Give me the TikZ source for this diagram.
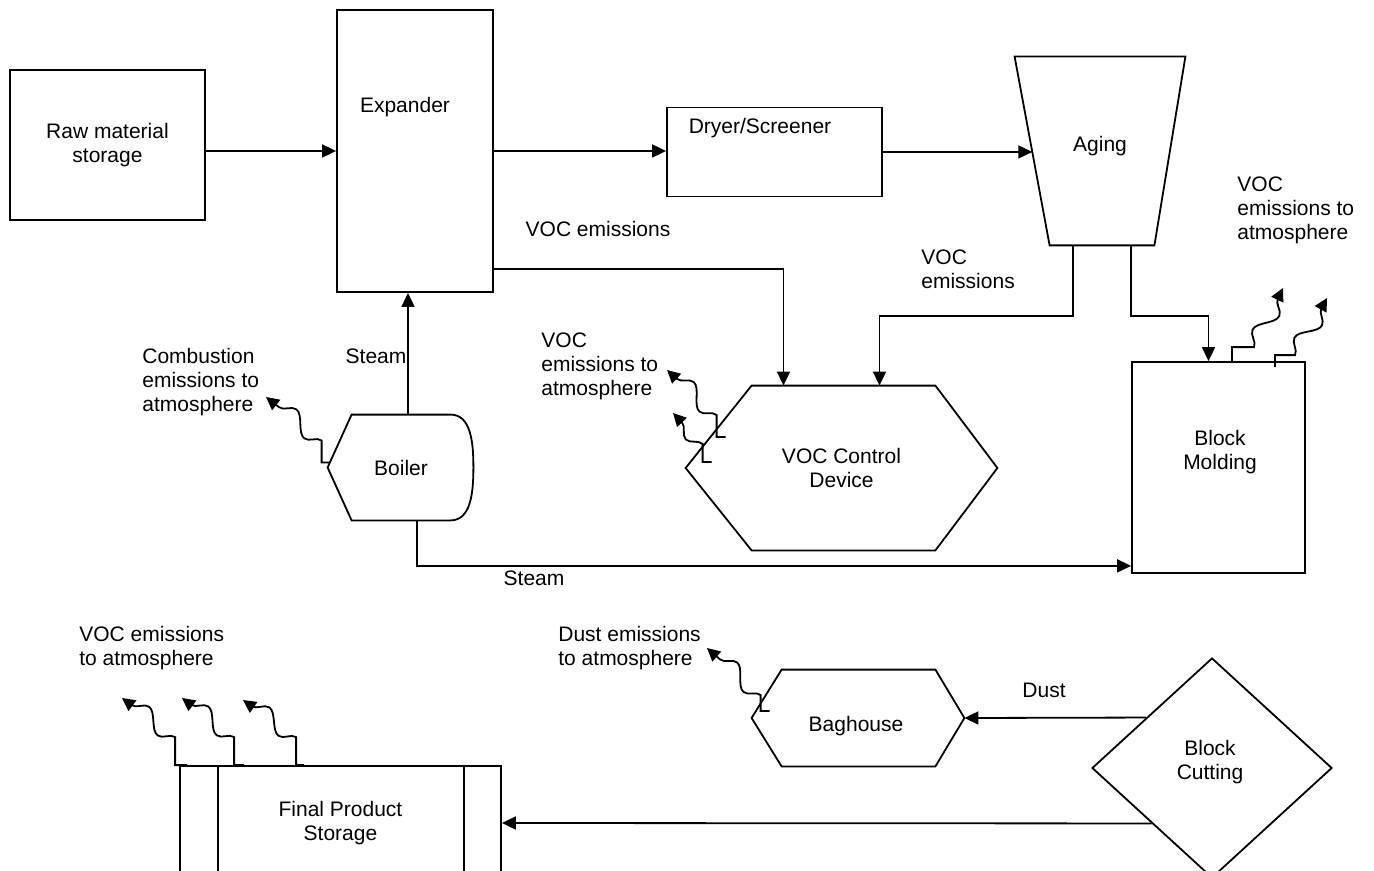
\documentclass[tikz,border=0pt]{standalone}
\usepackage{fontspec}
\setmainfont{Liberation Sans}
\usepackage{tikz}
\usetikzlibrary{arrows.meta}
\usetikzlibrary{positioning}
\usetikzlibrary{calc}
\usetikzlibrary{shapes.geometric}
\usetikzlibrary{decorations.pathmorphing}

\begin{document}
\begin{tikzpicture}[
    x=0.5pt, y=-0.5pt,
    every node/.style={font=\fontsize{10.5}{12}\selectfont, inner sep=0pt},
    unit/.style={draw, line width=0.9pt},
    flow/.style={line width=0.9pt, -{Triangle[length=7pt, width=6.5pt]}},
    fume/.style={line width=0.9pt, -{Triangle[length=6.5pt, width=6.5pt]},
        decoration={snake, amplitude=4.5pt, segment length=24pt, post length=4pt}},
    note/.style={align=left, anchor=west}
]
\useasboundingbox (0,0) rectangle (1374,871);

% Equipos
\node[unit, minimum width=97.5pt, minimum height=75pt, align=center] (raw) at (107.5,145) {Raw material\\storage};
\node[unit, minimum width=78pt, minimum height=141pt] (exp) at (415,151) {};
\node (exptxt) at (405,107) {Expander};
\node[unit, minimum width=107.5pt, minimum height=44.5pt] (dry) at (774.5,152) {};
\node (drytxt) at (760,128) {Dryer/Screener};

\node[minimum width=85pt, minimum height=94pt] (aging) at (1100,151) {};
\node (agingtxt) at (1100,146) {Aging};
\coordinate (agtl) at (aging.north west);
\coordinate (agtr) at (aging.north east);
\coordinate (agbr) at ($(aging.south east)+(-31,0)$);
\coordinate (agbl) at ($(aging.south west)+(35,0)$);
\coordinate (agin) at ($(agtl)!0.505!(agbl)$);
\draw[unit] (agtl) -- (agtr) -- (agbr) -- (agbl) -- cycle;

\node[minimum width=155.5pt, minimum height=82pt, align=center] (voc) at (841.5,468) {VOC Control\\Device};
\draw[unit] (voc.west) -- ($(voc.north west)+(66,0)$) -- ($(voc.north east)+(-62,0)$) -- (voc.east)
    -- ($(voc.south east)+(-62,0)$) -- ($(voc.south west)+(66,0)$) -- cycle;

\node[minimum width=49pt, minimum height=52.5pt] (boil) at (401,467.5) {Boiler};
\draw[unit] (boil.north west) -- (boil.north east) .. controls +(20,0) and +(0,-27) .. ($(boil.east)+(23,0)$)
    .. controls +(0,27) and +(20,0) .. (boil.south east) -- (boil.south west) -- ($(boil.west)+(-24,0)$) -- cycle;

\node[unit, minimum width=86.5pt, minimum height=105.5pt] (mold) at (1218.5,467.5) {};
\node[align=center] (moldtxt) at (1220,452) {Block\\Molding};

\node[minimum width=106pt, minimum height=48pt] (bag) at (858,718) {};
\node (bagtxt) at (856,726) {Baghouse};
\draw[unit] (bag.west) -- ($(bag.north west)+(30,0)$) -- ($(bag.north east)+(-29,0)$) -- (bag.east)
    -- ($(bag.south east)+(-29,0)$) -- ($(bag.south west)+(30,0)$) -- cycle;

\node[unit, diamond, minimum width=120pt, minimum height=110pt] (cut) at (1212,768) {};
\node[align=center] (cuttxt) at (1210,762) {Block\\Cutting};

\node[unit, minimum width=160.5pt, minimum height=57pt, align=center] (store) at (340.5,823) {Final Product\\Storage};
\draw[unit] ($(store.north west)+(39,0)$) -- ($(store.south west)+(39,0)$);
\draw[unit] ($(store.north east)+(-38,0)$) -- ($(store.south east)+(-38,0)$);

% Flujos
\draw[flow] (raw.east |- exp.west) -- (exp.west);
\draw[flow] (exp.east) -- (exp.east -| dry.west);
\draw[flow] (dry.east |- agin) -- (agin);
\draw[flow] ($(exp.south east)+(0,-24)$) -| ($(voc.north)+(-58,0)$);
\draw[flow] ($(aging.south)+(-27,0)$) -- ++(0,71) -| ($(voc.north)+(38,0)$);
\draw[flow] ($(aging.south)+(31,0)$) -- ++(0,71) -| ($(mold.north)+(-10,0)$);
\coordinate (steamup) at ($(boil.north)+(7,0)$);
\draw[flow] (steamup) -- (steamup |- exp.south);
\draw[flow] ($(boil.south)+(16,0)$) |- ($(mold.south west)+(0,-8)$);
\draw[flow] ($(cut.north)!0.545!(cut.west)$) -- (bag.east);
\draw[flow] ($(cut.west)!0.5!(cut.south)$) -- (store.east);

% Emisiones
\coordinate (tboil) at (266,397);
\coordinate (tvoca) at (667,370);
\coordinate (tvocb) at (673,413);
\coordinate (tmolda) at (1283,288);
\coordinate (tmoldb) at (1327,298);
\coordinate (tbag) at (707,648);
\coordinate (tstora) at (122,698);
\coordinate (tstorb) at (182,698);
\coordinate (tstorc) at (243,700);
\draw[fume] ($(boil.west)+(-22,-5)$) -- ++(-8,0) -- ++(0,-22) decorate {-- (tboil)};
\draw[fume] ($(voc.west)+(40,-31)$) -- ++(-9,0) -- ++(0,-22) decorate {-- (tvoca)};
\draw[fume] ($(voc.west)+(26,-6)$) -- ++(-9,0) -- ++(0,-18) decorate {-- (tvocb)};
\draw[fume] ($(mold.north)+(13.5,0)$) -- ++(0,-14) -- ++(22,0) decorate {-- (tmolda)};
\draw[fume] ($(mold.north)+(56.5,6)$) -- ++(0,-12) -- ++(20,0) decorate {-- (tmoldb)};
\draw[fume] ($(bag.west)+(18,-7)$) -- ++(-9,0) -- ++(0,-16) decorate {-- (tbag)};
\draw[fume] ($(store.north west)+(8,0)$) -- ++(-12,0) -- ++(0,-28) decorate {-- (tstora)};
\draw[fume] ($(store.north west)+(65,0)$) -- ++(-10,0) -- ++(0,-28) decorate {-- (tstorb)};
\draw[fume] ($(store.north west)+(125,0)$) -- ++(-8,0) -- ++(0,-28) decorate {-- (tstorc)};

% Textos
\node (lvocexp) at (598,229) {VOC emissions};
\node[note] (lvocage) at (921,269) {VOC\\emissions};
\node[note] (lcomb) at (142,382) {Combustion\\emissions to\\atmosphere};
\node[note] (lvocctl) at (541,366) {VOC\\emissions to\\atmosphere};
\node[note] (lvocmold) at (1237,210) {VOC\\emissions to\\atmosphere};
\node (lsteama) at (376,356) {Steam};
\node (lsteamb) at (534,578) {Steam};
\node (ldust) at (1044,690) {Dust};
\node[note] (ldustatm) at (558,648) {Dust emissions\\to atmosphere};
\node[note] (lvocstor) at (79,648) {VOC emissions\\to atmosphere};

\end{tikzpicture}
\end{document}
